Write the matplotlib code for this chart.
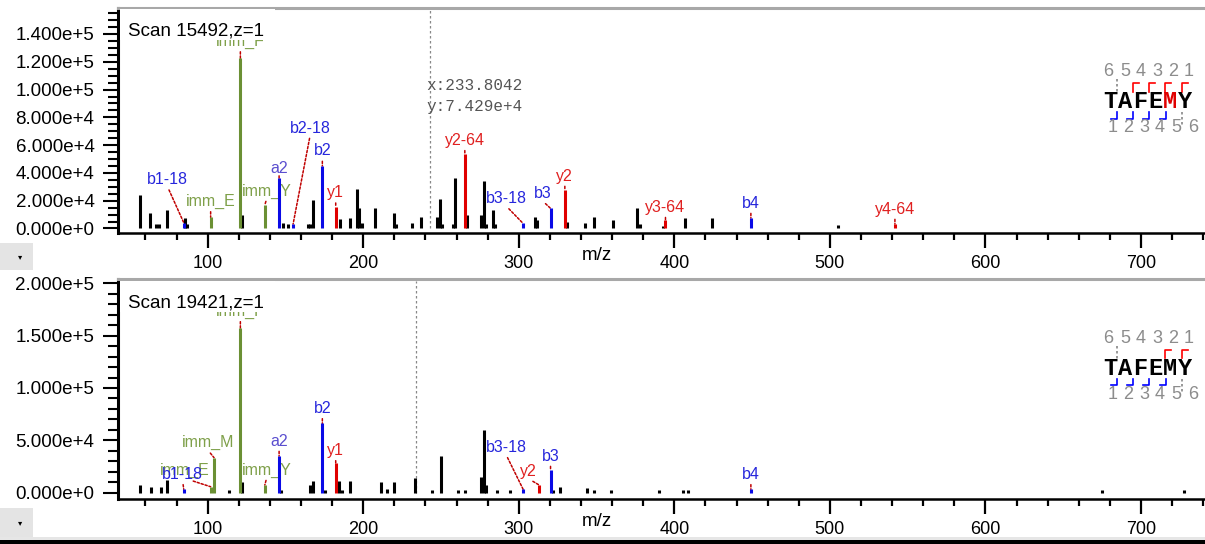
import matplotlib
matplotlib.use('Agg')
import matplotlib.pyplot as plt
import numpy as np
from matplotlib.ticker import FixedLocator, FuncFormatter
from matplotlib.patches import Rectangle

plt.rcParams['font.family'] = ['Liberation Sans', 'DejaVu Sans']

# ---- data: top spectrum (Scan 15492) ----
top_black_mz = [56.3, 62.7, 67.0, 69.0, 74.0, 85.5, 87.0, 122.3, 148.2, 151.8, 164.5, 166.0, 168.0,
                185.3, 191.8, 196.0, 197.0, 199.5, 207.4, 219.8, 221.0, 231.2, 237.4, 247.1, 249.6,
                250.8, 257.8, 259.1, 267.0, 275.6, 277.5, 279.0, 283.1, 284.5, 310.7, 311.6, 331.0,
                342.4, 348.4, 360.6, 376.3, 377.6, 392.4, 406.8, 424.3, 505.3]
top_black_int = [24100, 10900, 3200, 3200, 13300, 7500, 3000, 9700, 4000, 3200, 3000, 3000, 20500,
                 6600, 7500, 28400, 14500, 4000, 14500, 10900, 3500, 3700, 8500, 8500, 21200,
                 3000, 3200, 36500, 9700, 9700, 34200, 3000, 13300, 3000, 8500, 6000, 5000,
                 3600, 8500, 6000, 14500, 3200, 2000, 7500, 7500, 2500]
top_ion_mz = [84.6, 101.9, 121.0, 136.7, 145.9, 154.9, 173.7, 182.3, 265.3, 302.8, 320.4, 329.6,
              394.3, 449.2, 541.8]
top_ion_int = [4200, 8000, 122400, 16900, 36100, 3200, 45000, 15700, 53400, 3600, 14500, 27700,
               6000, 7500, 3200]
top_ion_lab = ['b1-18', 'imm_E', 'imm_F', 'imm_Y', 'a2', 'b2-18', 'b2', 'y1', 'y2-64', 'b3-18',
               'b3', 'y2', 'y3-64', 'b4', 'y4-64']
top_ion_kind = ['b', 'imm', 'imm', 'imm', 'a', 'b', 'b', 'y', 'y', 'b', 'b', 'y', 'y', 'b', 'y']

# ---- data: bottom spectrum (Scan 19421) ----
bot_black_mz = [56.3, 63.8, 70.2, 74.1, 113.7, 122.3, 147.0, 165.6, 167.7, 175.4, 184.5, 186.3,
                191.3, 211.3, 215.1, 219.8, 233.1, 243.9, 250.3, 261.0, 265.7, 275.6, 277.5, 279.2,
                286.3, 294.2, 321.8, 326.8, 343.9, 348.4, 359.0, 390.0, 405.7, 408.9, 674.7, 727.6]
bot_black_int = [7300, 5700, 5700, 12100, 2500, 9900, 2500, 7300, 11500, 2500, 11500, 2500,
                 11500, 9900, 3500, 9900, 13700, 2500, 35000, 2500, 2500, 14600, 59900, 7300,
                 2500, 2500, 2500, 5700, 4100, 2500, 2500, 2500, 2500, 2500, 2500, 2500]
bot_ion_mz = [101.9, 84.6, 104.1, 121.0, 136.7, 145.9, 173.7, 182.3, 302.8, 313.1, 320.4, 449.2]
bot_ion_int = [5700, 3200, 33400, 157000, 7300, 35000, 66200, 28000, 3200, 7300, 21600, 3200]
bot_ion_lab = ['imm_E', 'b1-18', 'imm_M', 'imm_F', 'imm_Y', 'a2', 'b2', 'y1', 'b3-18', 'y2', 'b3', 'b4']
bot_ion_kind = ['imm', 'b', 'imm', 'imm', 'imm', 'a', 'b', 'y', 'b', 'y', 'b', 'b']

cursor_mz = [242.8, 234.2]
peptide = 'TAFEMY'
top_y_frags = [1, 2, 3, 4]
bot_y_frags = [1, 2]
b_frags = [1, 2, 3, 4]

# label offsets from peak top, in pixels
top_offsets = [(-16, 43), (0, 16), (0, 17), (2, 14), (0, 10), (17, 96), (0, 15), (0, 14), (0, 14),
               (-17, 25), (-8, 15), (0, 14), (0, 13), (0, 15), (0, 15)]
bot_offsets = [(-26, 16), (-1, 15), (-6, 15), (0, 17), (2, 15), (0, 15), (0, 15), (0, 13),
               (-17, 42), (-11, 14), (0, 14), (0, 15)]

bar_col = {'b': '#0a0ae6', 'a': '#0a0ae6', 'y': '#e00000', 'imm': '#6b9034'}
txt_col = {'b': '#2626dc', 'a': '#5a4ecf', 'y': '#e02020', 'imm': '#7fa04a'}

W, H = 1205, 544
fig = plt.figure(figsize=(W / 100, H / 100), dpi=100)


def rect(x0, y0, x1, y1):
    return [x0 / W, 1 - y1 / H, (x1 - x0) / W, (y1 - y0) / H]


def sci(v, pos):
    if v == 0:
        return '0.000e+0'
    e = int(np.floor(np.log10(abs(v))))
    return f'{v / 10 ** e:.3f}e+{e}'


# pixel calibration of m/z axis
px100, pxper = 207.7, 1.5555
xlim = ((118 - (px100 - 100 * pxper)) / pxper, (W - (px100 - 100 * pxper)) / pxper)


def panel(box, zero_px, top_px, top_val, ymaj, ymin_step, black_mz, black_int,
          ion_mz, ion_int, ion_lab, ion_kind, offsets, cursor):
    ax = fig.add_axes(rect(*box))
    s = (zero_px - top_px) / top_val
    ylim = (-(box[3] - zero_px) / s, (zero_px - box[1]) / s)
    ax.set_xlim(*xlim)
    ax.set_ylim(*ylim)
    ax.vlines(black_mz, 0, black_int, color='black', lw=2.2, zorder=3)
    for m, i, lab, k, (dx, dy) in zip(ion_mz, ion_int, ion_lab, ion_kind, offsets):
        ax.vlines(m, 0, i, color=bar_col[k], lw=2.2, zorder=4)
        ax.annotate(lab, xy=(m, i), xytext=(dx, dy), textcoords='offset pixels',
                    ha='center', va='center', color=txt_col[k], fontsize=11.5, zorder=2,
                    arrowprops=dict(arrowstyle='-', color='#c00000', lw=1.1,
                                    linestyle=(0, (1.5, 1.2)), shrinkA=0, shrinkB=0,
                                    relpos=(0.5, 0)))
    ax.vlines(cursor, 0, ylim[1] * 0.99, color='#888888', lw=0.9, linestyle=(0, (2, 2)), zorder=1)
    ax.spines['right'].set_visible(False)
    ax.spines['top'].set_color('#a8a8a8')
    ax.spines['top'].set_linewidth(2.2)
    ax.spines['left'].set_linewidth(2.2)
    ax.spines['bottom'].set_linewidth(1.8)
    ax.xaxis.set_major_locator(FixedLocator(np.arange(100, 800, 100)))
    ax.xaxis.set_minor_locator(FixedLocator(np.arange(40, 760, 20)))
    ax.yaxis.set_major_locator(FixedLocator(np.arange(0, top_val + 1, ymaj)))
    ax.yaxis.set_minor_locator(FixedLocator(np.arange(0, ylim[1], ymin_step)))
    ax.yaxis.set_major_formatter(FuncFormatter(sci))
    ax.tick_params(axis='x', which='major', length=11, width=1.6, pad=5, labelsize=13)
    ax.tick_params(axis='x', which='minor', length=5, width=1.6)
    ax.tick_params(axis='y', which='major', length=11, width=1.5, pad=6, labelsize=13.5)
    ax.tick_params(axis='y', which='minor', length=7, width=1.5)
    return ax


ax1 = panel((118, 8, W, 233), 228.5, 34, 140000, 20000, 5000, top_black_mz, top_black_int,
            top_ion_mz, top_ion_int, top_ion_lab, top_ion_kind, top_offsets, cursor_mz[0])
ax2 = panel((118, 279, W, 498.7), 492.7, 283.3, 200000, 50000, 10000, bot_black_mz, bot_black_int,
            bot_ion_mz, bot_ion_int, bot_ion_lab, bot_ion_kind, bot_offsets, cursor_mz[1])

# overlay in pixel coordinates
ov = fig.add_axes([0, 0, 1, 1], zorder=5)
ov.set_xlim(0, W)
ov.set_ylim(H, 0)
ov.axis('off')

for ytop, title in [(9, 'Scan 15492,z=1'), (281, 'Scan 19421,z=1')]:
    ov.add_patch(Rectangle((120, ytop), 155, 31, fc='white', ec='none'))
    ov.text(128, ytop + 26, title, fontsize=13.5, va='baseline', ha='left')

for y in [256, 521.7]:
    ov.text(596.7, y, 'm/z', fontsize=13.5, ha='center', va='center')

ov.text(426, 86, 'x:233.8042', family='Liberation Mono', fontsize=11.5, color='#555555', va='center')
ov.text(426, 106, 'y:7.429e+4', family='Liberation Mono', fontsize=11.5, color='#555555', va='center')

for y0, y1 in [(243, 270), (508, 538)]:
    ov.add_patch(Rectangle((0, y0), 33, y1 - y0, fc='#e4e4e4', ec='none'))
    ov.text(20, (y0 + y1) / 2, '\u25be', fontsize=6, ha='center', va='center',
            family=['DejaVu Sans'])
ov.add_patch(Rectangle((0, 537), W, 3, fc='#e6e6e6', ec='none'))
ov.add_patch(Rectangle((0, 540), W, 4, fc='black', ec='none'))

# peptide fragment glyphs
letter_x = [1110 + 15 * i for i in range(6)]
num_top_x = [1108, 1125, 1141, 1157, 1173, 1189]
num_bot_x = [1113, 1128, 1144, 1160, 1176, 1193]
red_x = {4: 1133.3, 3: 1149.3, 2: 1165.0, 1: 1181.7}
blue_x = {1: 1116.7, 2: 1133.3, 3: 1149.3, 4: 1166.0}
for dy, yfr, red_letter in [(0, top_y_frags, 'M'), (266.6, bot_y_frags, None)]:
    for i, ch in enumerate(peptide):
        ov.text(letter_x[i], 102 + dy, ch, family='Liberation Mono', weight='bold', fontsize=17,
                ha='center', va='center', color='#e00000' if ch == red_letter else 'black')
        ov.text(num_top_x[i], 72 + dy, str(6 - i), fontsize=13, color='#8c8c8c',
                ha='center', va='center')
        ov.text(num_bot_x[i], 128 + dy, str(i + 1), fontsize=13, color='#8c8c8c',
                ha='center', va='center')
    for n in yfr:
        x = red_x[n]
        ov.plot([x, x, x + 6], [91.5 + dy, 83 + dy, 83 + dy], color='#ff0000', lw=1.2)
    for n in b_frags:
        x = blue_x[n]
        ov.plot([x - 6, x, x], [118.5 + dy, 118.5 + dy, 112 + dy], color='#0000ff', lw=1.2)
    ov.plot([1117.3, 1117.3], [79 + dy, 92 + dy], color='#888888', lw=1.2, linestyle=(0, (1.5, 1.5)))
    ov.plot([1182.3, 1182.3], [112 + dy, 127 + dy], color='#888888', lw=1.2, linestyle=(0, (1.5, 1.5)))

fig.savefig('out.png', dpi=100, facecolor='white')
